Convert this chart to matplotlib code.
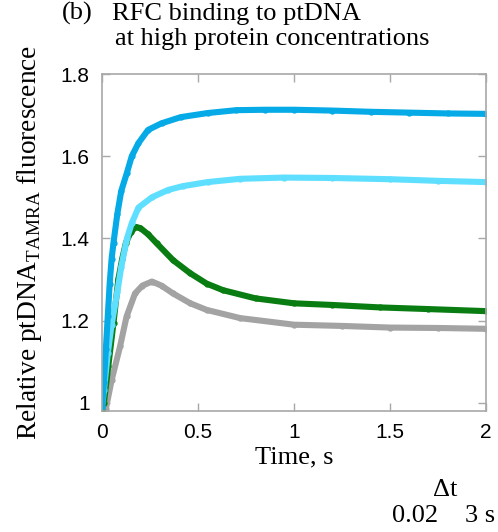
import matplotlib
matplotlib.use("Agg")
import matplotlib.pyplot as plt

# ---- data ----
t_blue = [0.0, 0.01, 0.02, 0.03, 0.04, 0.05, 0.06, 0.08, 0.10, 0.13, 0.155, 0.19, 0.24, 0.31,
          0.41, 0.55, 0.7, 0.85, 1.0, 1.2, 1.4, 1.6, 1.8, 2.0]
y_blue = [0.99, 1.05, 1.13, 1.21, 1.29, 1.35, 1.39, 1.46, 1.515, 1.56, 1.60, 1.632, 1.664, 1.68,
          1.695, 1.705, 1.712, 1.713, 1.713, 1.711, 1.708, 1.706, 1.704, 1.703]

t_cyan = [0.0, 0.01, 0.03, 0.05, 0.08, 0.10, 0.13, 0.155, 0.19, 0.26, 0.345, 0.42, 0.55, 0.72,
          0.95, 1.2, 1.5, 1.75, 2.0]
y_cyan = [0.99, 1.03, 1.12, 1.19, 1.27, 1.33, 1.40, 1.437, 1.475, 1.50, 1.518, 1.527, 1.537, 1.545,
          1.548, 1.547, 1.544, 1.54, 1.537]

t_green = [0.0, 0.01, 0.033, 0.06, 0.085, 0.105, 0.125, 0.15, 0.175, 0.2, 0.24, 0.285, 0.37, 0.46,
           0.545, 0.63, 0.8, 1.0, 1.2, 1.45, 1.7, 2.0]
y_green = [0.98, 1.0, 1.09, 1.195, 1.30, 1.35, 1.39, 1.415, 1.428, 1.425, 1.41, 1.388, 1.347, 1.315,
           1.29, 1.274, 1.254, 1.242, 1.238, 1.232, 1.228, 1.223]

t_gray = [0.01, 0.02, 0.05, 0.094, 0.128, 0.172, 0.21, 0.26, 0.31, 0.37, 0.46, 0.545, 0.72, 1.0,
          1.25, 1.5, 1.75, 2.0]
y_gray = [0.975, 0.985, 1.055, 1.137, 1.21, 1.266, 1.285, 1.295, 1.285, 1.266, 1.242, 1.226, 1.206,
          1.19, 1.187, 1.183, 1.182, 1.18]

x_ticks = [0, 0.5, 1, 1.5, 2]
x_ticklabels = ["0", "0.5", "1", "1.5", "2"]
y_ticks = [1.0, 1.2, 1.4, 1.6, 1.8]
y_ticklabels = ["1", "1.2", "1.4", "1.6", "1.8"]

serif = ["Liberation Serif", "DejaVu Serif"]
sans = ["Liberation Sans", "DejaVu Sans"]

fig = plt.figure(figsize=(4.98, 5.32), dpi=100)
ax = fig.add_axes([102 / 498, 1 - 411 / 532, 384 / 498, 337 / 532])

series = [
    (t_gray, y_gray, "#a3a3a3"),
    (t_green, y_green, "#0a7d12"),
    (t_cyan, y_cyan, "#5fdfff"),
    (t_blue, y_blue, "#05aae6"),
]
for t, y, c in series:
    ax.plot(t, y, color=c, lw=4.4, solid_capstyle="round", solid_joinstyle="round",
            marker="o", ms=3.5, mec=c, mfc=c)

ax.set_xlim(0, 2)
ax.set_ylim(0.98, 1.8)
ax.set_xticks(x_ticks)
ax.set_xticklabels(x_ticklabels, fontfamily=sans, fontsize=15)
ax.set_yticks(y_ticks)
ax.set_yticklabels(y_ticklabels, fontfamily=sans, fontsize=15)
ax.tick_params(direction="in", length=6, width=1, color="#a8a8a8",
               top=True, right=True, pad=9)
for s in ax.spines.values():
    s.set_color("#a8a8a8")
    s.set_linewidth(1.2)

ax.set_xlabel("Time, s", fontfamily=serif, fontsize=19, labelpad=3)
ax.set_ylabel(r"Relative ptDNA$_{\mathregular{TAMRA}}$ fluorescence", fontfamily=serif,
              fontsize=19.7, labelpad=12)

fig.text(62 / 498, 1 - 20 / 532, "(b)", fontfamily=serif, fontsize=19, ha="left", va="baseline")
fig.text(112 / 498, 1 - 20 / 532, "RFC binding to ptDNA", fontfamily=serif, fontsize=19,
         ha="left", va="baseline")
fig.text(115 / 498, 1 - 45 / 532, "at high protein concentrations", fontfamily=serif,
         fontsize=19, ha="left", va="baseline")

fig.text(445 / 498, 1 - 496 / 532, "\u0394t", fontfamily=serif, fontsize=19, ha="center",
         va="baseline")
fig.text(392 / 498, 1 - 522 / 532, "0.02", fontfamily=serif, fontsize=19, ha="left",
         va="baseline")
fig.text(495 / 498, 1 - 522 / 532, "3 s", fontfamily=serif, fontsize=19, ha="right",
         va="baseline")

fig.savefig("out.png", dpi=100)
